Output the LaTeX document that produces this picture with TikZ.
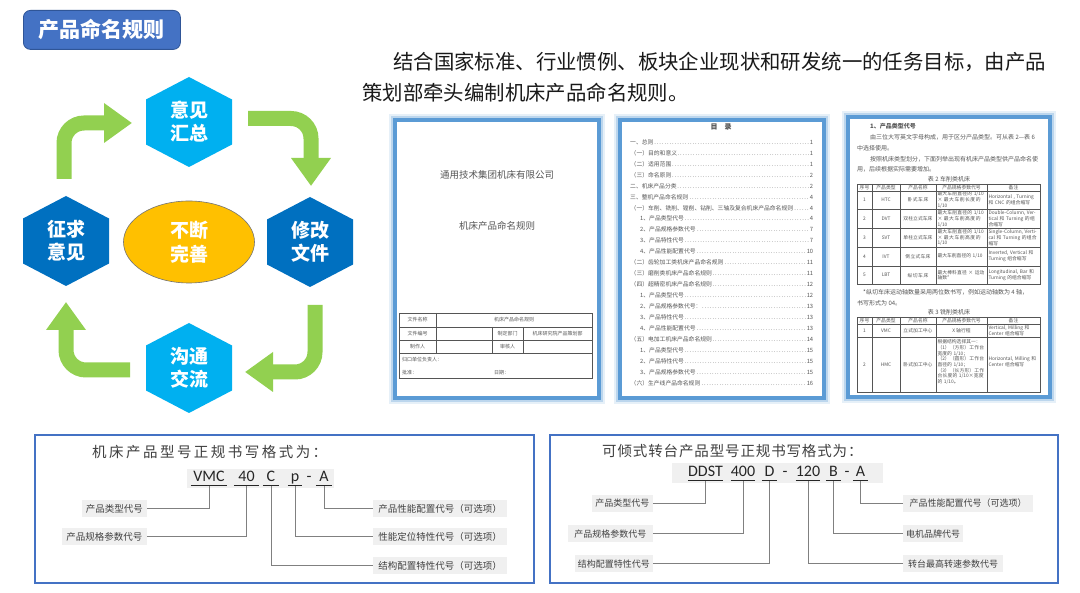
\documentclass[tikz,border=0pt]{standalone}
\usepackage{fontspec}
\setmainfont{Noto Sans CJK SC}
\newfontfamily\codefont{Carlito}
\newfontfamily\spaceA[LetterSpace=17]{Noto Sans CJK SC}
\newfontfamily\spaceB[LetterSpace=6]{Noto Sans CJK SC}
\XeTeXlinebreaklocale "zh"
\XeTeXlinebreakskip=0pt plus 1pt
\usetikzlibrary{arrows.meta,shapes.geometric,positioning,calc}

\definecolor{titleblue}{HTML}{4472C4}
\definecolor{titleline}{HTML}{2F5597}
\definecolor{hexlight}{HTML}{00B0F0}
\definecolor{hexdark}{HTML}{0070C0}
\definecolor{arrowgreen}{HTML}{92D050}
\definecolor{wanshanfill}{HTML}{FFC000}
\definecolor{docblue}{HTML}{5B9BD5}
\definecolor{frameblue}{HTML}{4472C4}
\definecolor{textgray}{HTML}{404040}
\definecolor{codegray}{HTML}{262626}
\definecolor{leadgray}{HTML}{808080}
\definecolor{doctext}{HTML}{555555}

% hexagon with pointy top: center x, center y, colour
\newcommand\hexcell[3]{%
  \fill[#3] (#1,#2-45) -- ++(43,22.5) -- ++(0,45) -- ++(-43,22.5) -- ++(-43,-22.5) -- ++(0,-45) -- cycle;}
% scanned page with blue glow
\newcommand\docpage[4]{%
  \draw[docblue, opacity=.15, line width=12pt] (#1,#2) rectangle (#3,#4);
  \draw[docblue, opacity=.3, line width=8pt] (#1,#2) rectangle (#3,#4);
  \draw[docblue, line width=4pt, fill=white] (#1,#2) rectangle (#3,#4);}

\tikzset{
  titlebox/.style={fill=titleblue, draw=titleline, line width=0.8pt, rounded corners=7pt, text=white,
    font=\bfseries\fontsize{21}{21}\selectfont},
  maintext/.style={anchor=west, inner sep=0, font=\fontsize{20.4}{22}\selectfont, text=black!90},
  hexlabel/.style={text=white, align=center, font=\bfseries\fontsize{19}{23}\selectfont},
  bigarrow/.style={line width=15pt, arrowgreen, rounded corners=20pt, -{Triangle[length=28pt,width=38pt]}},
  doc/.style={inner sep=0, text=doctext, font=\fontsize{5}{6}\selectfont},
  toc/.style={anchor=west, inner sep=0, text=doctext, font=\fontsize{5.8}{6}\selectfont},
  cell/.style={inner sep=0.4pt, text=doctext, align=center, font=\fontsize{4.8}{5.7}\selectfont},
  cellw/.style={cell, text width=#1, align=left},
  fmtframe/.style={draw=frameblue, line width=2pt, fill=white, inner sep=0},
  codeseg/.style={inner sep=0, text height=11.5pt, text depth=4pt, text=codegray, font=\codefont\fontsize{16}{16}\selectfont},
  underline/.style={codegray, line width=1.1pt},
  lbl/.style={fill=black!6, inner sep=1.5pt, minimum height=17, text=textgray, font=\fontsize{9.5}{10}\selectfont},
  lblsmall/.style={lbl, font=\fontsize{9}{10}\selectfont},
  leader/.style={leadgray, line width=1pt}
}

\begin{document}
\begin{tikzpicture}[x=1pt, y=-1pt]
\useasboundingbox (0,0) rectangle (1080,593);
\fill[white] (0,0) rectangle (1080,593);

% title and intro
\node[titlebox, minimum width=157, minimum height=39, anchor=north west] (title) at (23,10) {产品命名规则};
\node[maintext] (intro1) at (393,62) {结合国家标准、行业惯例、板块企业现状和研发统一的任务目标，由产品};
\node[maintext] (intro2) at (362,93) {策划部牵头编制机床产品命名规则。};

% improvement cycle
\hexcell{189}{122}{hexlight}
\hexcell{310}{242}{hexdark}
\hexcell{189}{368}{hexlight}
\hexcell{66}{241}{hexdark}
\node[hexlabel] (huizong) at (189,122) {意见\\汇总};
\node[hexlabel] (xiugai) at (310,242) {修改\\文件};
\node[hexlabel] (goutong) at (189,368) {沟通\\交流};
\node[hexlabel] (zhengqiu) at (66,241) {征求\\意见};
\node[ellipse, fill=wanshanfill, draw=black!55, line width=0.6pt, minimum width=131, minimum height=82,
  text=white, align=center, font=\bfseries\fontsize{19}{24}\selectfont] (wanshan) at (189,242) {不断\\完善};

\coordinate (a1s) at (64,179);  \coordinate (a1e) at (132,123);
\coordinate (a2s) at (248,118.5); \coordinate (a2e) at (311,186);
\coordinate (a3s) at (315,305); \coordinate (a3e) at (245,372);
\coordinate (a4s) at (130,370); \coordinate (a4e) at (66,302);
\draw[bigarrow] (a1s) |- (a1e);
\draw[bigarrow] (a2s) -| (a2e);
\draw[bigarrow] (a3s) |- (a3e);
\draw[bigarrow] (a4s) -| (a4e);

% page 1: cover
\docpage{395}{120}{599}{398}
\node[doc, font=\fontsize{9.5}{10}\selectfont] (company) at (497,175) {通用技术集团机床有限公司};
\node[doc, font=\fontsize{9.5}{10}\selectfont] (doctitle) at (497,226) {机床产品命名规则};
\draw[doctext, line width=0.5pt] (399,313) rectangle (592,378);
\foreach \yy in {327,340,353} \draw[doctext, line width=0.4pt] (399,\yy) -- (592,\yy);
\draw[doctext, line width=0.4pt] (436,313) -- (436,353);
\foreach \xx in {492,523} \draw[doctext, line width=0.4pt] (\xx,327) -- (\xx,353);
\node[doc] at (417.5,320) {文件名称};
\node[doc] at (514,320) {机床产品命名规则};
\node[doc] at (417.5,333.5) {文件编号};
\node[doc] at (507.5,333.5) {制定部门};
\node[doc] at (557.5,333.5) {机床研究院产品策划部};
\node[doc] at (417.5,346.5) {制作人};
\node[doc] at (507.5,346.5) {审核人};
\node[doc, anchor=west] at (402,359.5) {归口单位负责人：};
\node[doc, anchor=west] at (402,372.5) {批准：};
\node[doc, anchor=west] at (494,372.5) {日期：};

% page 2: contents
\docpage{620}{120}{824}{398}
\node[doc, font=\bfseries\fontsize{7}{7}\selectfont] (mulu) at (721,127) {目\quad 录};
\foreach \lv/\txt/\pg [count=\i from 0] in {
  0/一、总则/1, 1/（一）目的和意义/1, 1/（二）适用范围/1, 1/（三）命名原则/2,
  0/二、机床产品分类/2, 0/三、整机产品命名规则/4,
  1/（一）车削、铣削、镗削、钻削、三轴及复合机床产品命名规则/4,
  2/1、产品类型代号/4, 2/2、产品规格参数代号/7, 2/3、产品特性代号/7, 2/4、产品性能配置代号/10,
  1/（二）齿轮加工类机床产品命名规则/11, 1/（三）磨削类机床产品命名规则/11,
  1/（四）超精密机床产品命名规则/12,
  2/1、产品类型代号/12, 2/2、产品规格参数代号：/13, 2/3、产品特性代号/13, 2/4、产品性能配置代号/13,
  1/（五）电加工机床产品命名规则/14,
  2/1、产品类型代号/15, 2/2、产品特性代号/15, 2/3、产品规格参数代号/15,
  1/（六）生产线产品命名规则/16} {
  \pgfmathsetmacro\tx{\lv==2 ? 640 : (\lv==1 ? 630.5 : 630)}
  \pgfmathsetmacro\tw{813-\tx}
  \node[toc] at (\tx,142+\i*10.97) {\hbox to \tw pt{\txt\dotfill\pg}};
}

% page 3: type codes
\docpage{848}{117}{1050}{397}
\node[doc, anchor=west, font=\bfseries\fontsize{6}{7}\selectfont] at (870,126) {1、产品类型代号};
\node[doc, anchor=west, font=\fontsize{6}{7}\selectfont] at (870,137.5) {由三位大写英文字母构成，用于区分产品类型。可从表 2—表 6};
\node[doc, anchor=west, font=\fontsize{6}{7}\selectfont] at (857,148) {中选择使用。};
\node[doc, anchor=west, font=\fontsize{6}{7}\selectfont] at (870,159) {按照机床类型划分，下面列举出现有机床产品类型供产品命名使};
\node[doc, anchor=west, font=\fontsize{6}{7}\selectfont] at (857,169.5) {用，后续根据实际需要增加。};
\node[doc, font=\fontsize{6}{7}\selectfont] at (949,179) {表 2 车削类机床};
\draw[doctext, line width=0.5pt] (857,184) rectangle (1040,284);
\foreach \yy in {191,209,228,247,266} \draw[doctext, line width=0.4pt] (857,\yy) -- (1040,\yy);
\foreach \xx in {872,900,936,987} \draw[doctext, line width=0.4pt] (\xx,184) -- (\xx,284);
\node[cell] at (864.5,187.5) {序号};
\node[cell] at (886,187.5) {产品类型};
\node[cell] at (918,187.5) {产品名称};
\node[cell] at (961.5,187.5) {产品规格参数代号};
\node[cell] at (1013.5,187.5) {备注};
\foreach \n/\code/\name/\spec/\note [count=\r from 0] in {
  1/HTC/卧式车床/{最大车削直径的 1/10 × 最大车削长度的 1/10}/{Horizontal , Turning 和 CNC 的组合缩写},
  2/DVT/双柱立式车床/{最大车削直径的 1/10 × 最大车削高度的 1/10}/{Double-Column, Vertical 和 Turning 的组合缩写},
  3/SVT/单柱立式车床/{最大车削直径的 1/10 × 最大车削高度的 1/10}/{Single-Column, Vertical 和 Turning 的组合缩写},
  4/IVT/倒立式车床/{最大车削直径的 1/10}/{Inverted, Vertical 和 Turning 组合缩写},
  5/LBT/纵切车床/{最大棒料直径 × 运动轴数*}/{Longitudinal, Bar 和 Turning 的组合缩写}} {
  \pgfmathsetmacro\ry{200+\r*18.8}
  \node[cell] at (864.5,\ry) {\n};
  \node[cell] at (886,\ry) {\code};
  \node[cell, text width=30] at (918,\ry) {\name};
  \node[cellw=48] at (961.5,\ry) {\spec};
  \node[cellw=50] at (1013.5,\ry) {\note};
}
\node[doc, anchor=west, font=\fontsize{6}{7}\selectfont] at (857,292) {\hspace{6pt}*纵切车床运动轴数量采用两位数书写，例如运动轴数为 4 轴，};
\node[doc, anchor=west, font=\fontsize{6}{7}\selectfont] at (857,303) {书写形式为 04。};
\node[doc, font=\fontsize{6}{7}\selectfont] at (949,312) {表 3 铣削类机床};
\draw[doctext, line width=0.5pt] (857,317) rectangle (1040,392);
\foreach \yy in {324,337} \draw[doctext, line width=0.4pt] (857,\yy) -- (1040,\yy);
\foreach \xx in {872,900,936,987} \draw[doctext, line width=0.4pt] (\xx,317) -- (\xx,392);
\node[cell] at (864.5,320.5) {序号};
\node[cell] at (886,320.5) {产品类型};
\node[cell] at (918,320.5) {产品名称};
\node[cell] at (961.5,320.5) {产品规格参数代号};
\node[cell] at (1013.5,320.5) {备注};
\node[cell] at (864.5,330.5) {1};
\node[cell] at (886,330.5) {VMC};
\node[cell, text width=30] at (918,330.5) {立式加工中心};
\node[cell] at (961.5,330.5) {X 轴行程};
\node[cellw=50] at (1013.5,330.5) {Vertical, Milling 和 Center 组合缩写};
\node[cell] at (864.5,364.5) {2};
\node[cell] at (886,364.5) {HMC};
\node[cell, text width=30] at (918,364.5) {卧式加工中心};
\node[cellw=48, anchor=north] at (961.5,339) {根据结构选择其一：\\（1）（方形）工作台宽度的 1/10；\\（2）（圆形）工作台直径的 1/10；\\（3）（长方形）工作台长度的 1/10×宽度的 1/10。};
\node[cellw=50] at (1013.5,362) {Horizontal, Milling 和 Center 组合缩写};

% left format: machine tool model
\node[fmtframe, minimum width=499, minimum height=148, anchor=north west] (leftframe) at (34,434) {};
\node[anchor=west, inner sep=0, text=textgray, font=\spaceA\fontsize{14.5}{15}\selectfont] (lefthead) at (92,452) {机床产品型号正规书写格式为：};
\fill[black!6] (187,469) rectangle (334,488);
\node[codeseg, minimum width=36] (vmc) at (209,478) {VMC};
\node[codeseg, minimum width=25] (forty) at (246.5,478) {40};
\node[codeseg, minimum width=16] (cc) at (271,478) {C};
\node[codeseg, minimum width=14] (pp) at (295,478) {p};
\node[codeseg] (dashl) at (309,478) {-};
\node[codeseg, minimum width=16] (aa) at (324,478) {A};
\foreach \n in {vmc,forty,cc,pp,aa} \draw[underline] (\n.south west) -- (\n.south east);
\node[lbl, minimum width=65, anchor=east] (ltype) at (147,508.5) {产品类型代号};
\node[lbl, minimum width=85, anchor=east] (lspec) at (147,537) {产品规格参数代号};
\node[lbl, minimum width=134, anchor=west] (lperf) at (373,508.5) {产品性能配置代号（可选项）};
\node[lbl, minimum width=134, anchor=west] (lpos) at (373,537) {性能定位特性代号（可选项）};
\node[lbl, minimum width=134, anchor=west] (lstruct) at (373,565.5) {结构配置特性代号（可选项）};
\draw[leader] (vmc.south) |- (ltype.east);
\draw[leader] (forty.south) |- (lspec.east);
\draw[leader] (cc.south) |- (lstruct.west);
\draw[leader] (pp.south) |- (lpos.west);
\draw[leader] (aa.south) |- (lperf.west);

% right format: tilting rotary table model
\node[fmtframe, minimum width=508, minimum height=148, anchor=north west] (rightframe) at (549,434) {};
\node[anchor=west, inner sep=0, text=textgray, font=\spaceB\fontsize{14.5}{15}\selectfont] (righthead) at (602,451) {可倾式转台产品型号正规书写格式为：};
\fill[black!6] (672,463) rectangle (883,483);
\node[codeseg, minimum width=35] (ddst) at (705.5,473) {DDST};
\node[codeseg, minimum width=22] (fourh) at (743,473) {400};
\node[codeseg, minimum width=15] (dd) at (769.5,473) {D};
\node[codeseg] (dasha) at (785,473) {-};
\node[codeseg, minimum width=22] (speed) at (808,473) {120};
\node[codeseg, minimum width=15] (bb) at (833.5,473) {B};
\node[codeseg] (dashb) at (847,473) {-};
\node[codeseg, minimum width=15] (ra) at (860.5,473) {A};
\foreach \n in {ddst,fourh,dd,speed,bb,ra} \draw[underline] (\n.south west) -- (\n.south east);
\node[lblsmall, minimum width=61, anchor=east] (rtype) at (653,503.5) {产品类型代号};
\node[lblsmall, minimum width=85, anchor=east] (rspec) at (653,534) {产品规格参数代号};
\node[lblsmall, minimum width=78, anchor=east] (rstruct) at (653,564) {结构配置特性代号};
\node[lblsmall, minimum width=130, anchor=west] (rperf) at (903,503.5) {产品性能配置代号（可选项）};
\node[lblsmall, minimum width=60, anchor=west] (rmotor) at (903,534) {电机品牌代号};
\node[lblsmall, minimum width=100, anchor=west] (rspeed) at (903,564) {转台最高转速参数代号};
\draw[leader] (ddst.south) |- (rtype.east);
\draw[leader] (fourh.south) |- (rspec.east);
\draw[leader] (dd.south) |- (rstruct.east);
\draw[leader] (speed.south) |- (rspeed.west);
\draw[leader] (bb.south) |- (rmotor.west);
\draw[leader] (ra.south) |- (rperf.west);
\end{tikzpicture}
\end{document}
